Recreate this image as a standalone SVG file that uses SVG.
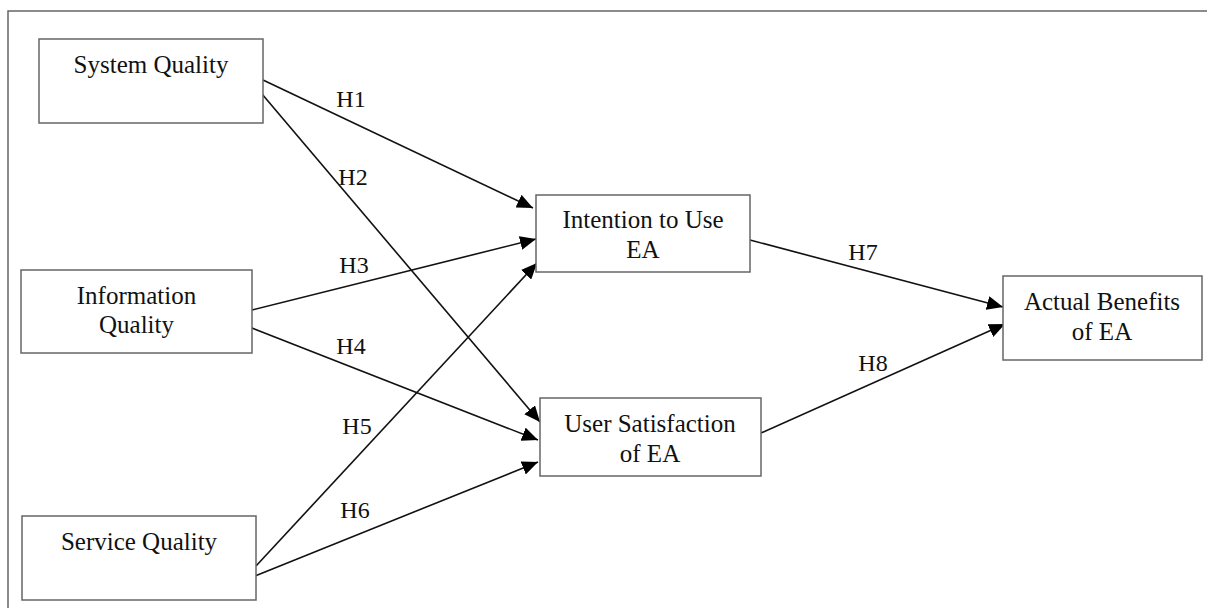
<svg xmlns="http://www.w3.org/2000/svg" width="1207" height="608" viewBox="0 0 1207 608">
<style>
.box{fill:#fff;stroke:#666;stroke-width:1.5}
.t{font-family:"Liberation Serif","Times New Roman",serif;font-size:25px;fill:#111;text-anchor:middle}
.h{font-family:"Liberation Serif","Times New Roman",serif;font-size:24px;fill:#111;text-anchor:middle}
.c{stroke:#111;stroke-width:1.6;fill:none;marker-end:url(#ah)}
</style>
<defs>
<marker id="ah" markerUnits="userSpaceOnUse" markerWidth="18" markerHeight="14" refX="16" refY="7" orient="auto">
<path d="M0,0 L16,7 L0,14 Z" fill="#000"/>
</marker>
</defs>
<rect x="8" y="11" width="1220" height="620" fill="#fff" stroke="#666" stroke-width="1.5"/>
<g id="connectors">
<line class="c" x1="263" y1="80" x2="533" y2="208"/>
<line class="c" x1="262" y1="94" x2="540" y2="422"/>
<line class="c" x1="252" y1="310" x2="536" y2="239"/>
<line class="c" x1="252" y1="328" x2="538" y2="440"/>
<line class="c" x1="256" y1="566" x2="537" y2="263"/>
<line class="c" x1="255" y1="576" x2="538" y2="462"/>
<line class="c" x1="750" y1="240" x2="1003" y2="307"/>
<line class="c" x1="761" y1="433" x2="1005" y2="324"/>
<text class="h" x="351" y="107">H1</text>
<text class="h" x="353" y="185">H2</text>
<text class="h" x="354" y="273">H3</text>
<text class="h" x="351" y="354">H4</text>
<text class="h" x="357" y="434">H5</text>
<text class="h" x="355" y="518">H6</text>
<text class="h" x="863" y="260">H7</text>
<text class="h" x="873" y="371">H8</text>
</g>
<g id="system-quality">
<rect class="box" x="39" y="39" width="224" height="84"/>
<text class="t" x="151" y="73">System Quality</text>
</g>
<g id="information-quality">
<rect class="box" x="21" y="270" width="231" height="83"/>
<text class="t" x="136.5" y="304">Information</text>
<text class="t" x="136.5" y="333">Quality</text>
</g>
<g id="service-quality">
<rect class="box" x="22" y="516" width="234" height="84"/>
<text class="t" x="139" y="550">Service Quality</text>
</g>
<g id="intention-to-use">
<rect class="box" x="536" y="195" width="214" height="77"/>
<text class="t" x="643" y="228">Intention to Use</text>
<text class="t" x="643" y="258">EA</text>
</g>
<g id="user-satisfaction">
<rect class="box" x="540" y="398" width="221" height="78"/>
<text class="t" x="650" y="432">User Satisfaction</text>
<text class="t" x="650" y="462">of EA</text>
</g>
<g id="actual-benefits">
<rect class="box" x="1003" y="276" width="199" height="84"/>
<text class="t" x="1102" y="310">Actual Benefits</text>
<text class="t" x="1102" y="340">of EA</text>
</g>
</svg>
